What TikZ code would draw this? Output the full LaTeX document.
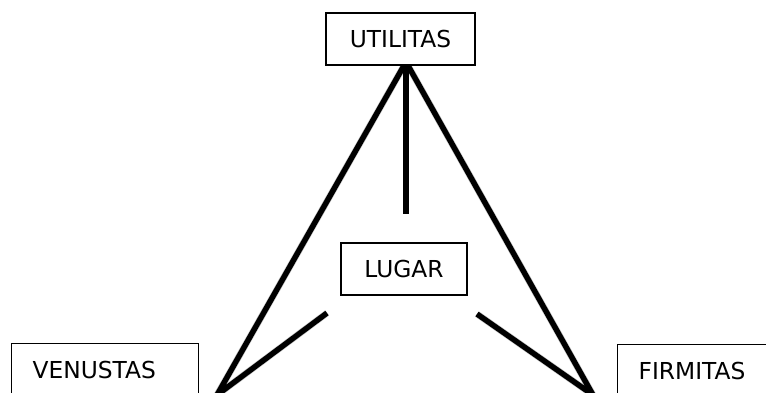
\documentclass[tikz,border=0pt]{standalone}
\usepackage{fontspec}
\setmainfont{DejaVu Sans}
\begin{document}
\begin{tikzpicture}[x=0.75pt,y=-0.75pt,
  box/.style={draw=black,line width=1pt,fill=white,font=\fontsize{17.5}{20}\selectfont,
    minimum height=52*0.75pt,inner xsep=21*0.75pt,inner ysep=0pt},
  wide/.style={text width=#1*0.75pt,align=left,anchor=north west},
  bar/.style={line width=4.1pt,line cap=butt,line join=miter},
  shadowbar/.style={line width=5pt,draw=black!22,line join=miter}]
\clip (0,0) rectangle (766,392);
% coordinates
\coordinate (apex) at (406,62);
\coordinate (lv) at (217,395);
\coordinate (rv) at (593,395);
\coordinate (ls) at (327,313);
\coordinate (rs) at (477,314);
\coordinate (vend) at (406,214);
% shadows
\begin{scope}[shift={(2,2)}]
\draw[shadowbar] (ls) -- (lv) -- (apex) -- (rv) -- (rs);
\draw[shadowbar] (apex) -- (vend);
\end{scope}
% lines
\draw[bar] (ls) -- (lv) -- (apex) -- (rv) -- (rs);
\draw[bar] (apex) -- (vend);
% boxes
\node[box,minimum width=149*0.75pt] (ut) at (400.5,39) {UTILITAS};
\node[box,minimum width=126*0.75pt] (lug) at (404,269) {LUGAR};
\node[box,wide=145] (ven) at (11,343) {VENUSTAS};
\node[box,wide=145] (fir) at (617,344) {FIRMITAS};
\end{tikzpicture}
\end{document}
